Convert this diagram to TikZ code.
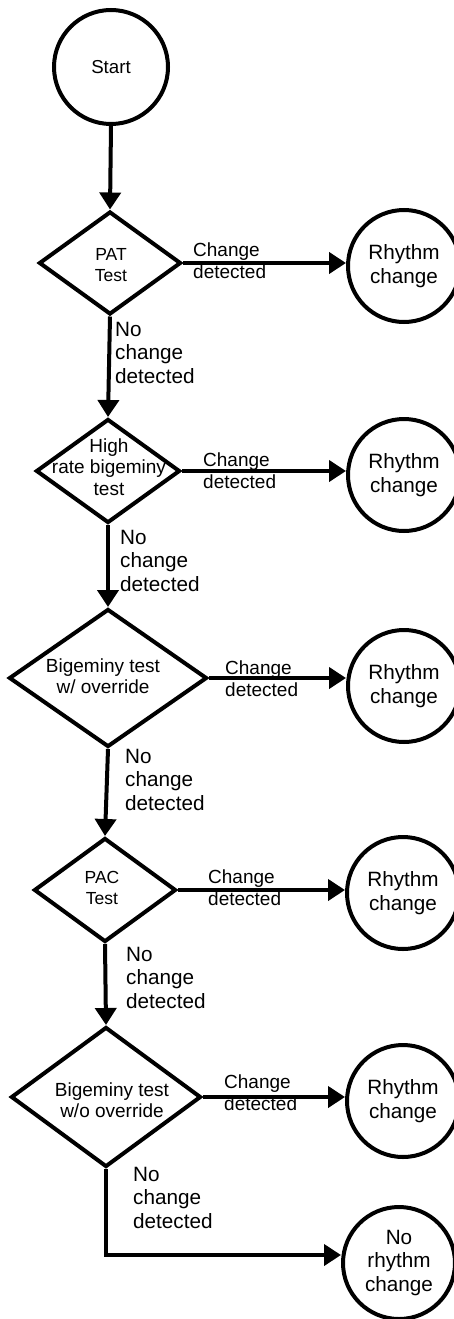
\documentclass[tikz,border=0pt]{standalone}
\usepackage{fontspec}
\setmainfont{Liberation Sans}
\usetikzlibrary{shapes.geometric,arrows.meta}
\begin{document}
\begin{tikzpicture}[x=1pt,y=-1pt,
  term/.style={draw, circle, line width=4pt, minimum size=112pt, inner sep=0pt, align=center, font=\fontsize{20.7}{23.5}\selectfont},
  dec/.style={draw, diamond, line width=4pt, inner sep=0pt},
  txt/.style={align=center, inner sep=0pt, font=\fontsize{19}{21.5}\selectfont},
  small/.style={font=\fontsize{17.5}{21.5}\selectfont},
  chg/.style={align=left, inner sep=0pt, anchor=west, font=\fontsize{19}{22}\selectfont},
  nochg/.style={align=left, inner sep=0pt, anchor=north west, font=\fontsize{20.7}{23.5}\selectfont},
  flow/.style={line width=4pt, -{Triangle[length=17pt,width=21pt]}}
]
\useasboundingbox[fill=white] (0,0) rectangle (453,1319);

% start
\node[term, minimum size=114pt, font=\fontsize{18.7}{22}\selectfont] (start) at (111,67) {Start};

% decisions
\node[dec, minimum width=142pt, minimum height=103pt] (d1) at (110,263) {};
\node[txt, small] (t1) at (111,265) {PAT\\Test};
\node[dec, minimum width=144pt, minimum height=104pt] (d2) at (108,471) {};
\node[txt] (t2) at (109,467) {High\\rate bigeminy\\test};
\node[dec, minimum width=198pt, minimum height=138pt] (d3) at (108,678) {};
\node[txt] (t3) at (103,676) {Bigeminy test\\w/ override};
\node[dec, minimum width=142pt, minimum height=104pt] (d4) at (105,890) {};
\node[txt, small] (t4) at (102,888) {PAC\\Test};
\node[dec, minimum width=190pt, minimum height=140pt] (d5) at (106,1097) {};
\node[txt] (t5) at (112,1100) {Bigeminy test\\w/o override};

% outcomes
\node[term] (c1) at (404,266) {Rhythm\\change};
\node[term] (c2) at (404,475) {Rhythm\\change};
\node[term] (c3) at (404,686) {Rhythm\\change};
\node[term] (c4) at (403,893) {Rhythm\\change};
\node[term] (c5) at (403,1101) {Rhythm\\change};
\node[term] (c6) at (399,1263) {No\\rhythm\\change};

% labels
\node[chg] (l1) at (193,261) {Change\\detected};
\node[chg] (l2) at (203,471) {Change\\detected};
\node[chg] (l3) at (225,679) {Change\\detected};
\node[chg] (l4) at (208,888) {Change\\detected};
\node[chg] (l5) at (224,1093) {Change\\detected};

\node[nochg] (n1) at (115,322) {No\\change\\detected};
\node[nochg] (n2) at (120,530) {No\\change\\detected};
\node[nochg] (n3) at (125,749) {No\\change\\detected};
\node[nochg] (n4) at (126,947) {No\\change\\detected};
\node[nochg] (n5) at (133,1167) {No\\change\\detected};

% vertical flow
\draw[flow] (start.south) -- (d1.north);
\draw[flow] (d1.south) -- (d2.north);
\draw[flow] (d2.south) -- (d3.north);
\draw[flow] (d3.south) -- (d4.north);
\draw[flow] (d4.south) -- (d5.north);

% horizontal flow
\draw[flow] (d1.east) -- (d1.east -| c1.west);
\draw[flow] (d2.east) -- (d2.east -| c2.west);
\draw[flow] (d3.east) -- (d3.east -| c3.west);
\draw[flow] (d4.east) -- (d4.east -| c4.west);
\draw[flow] (d5.east) -- (d5.east -| c5.west);

\coordinate (corner) at (106,1255);
\draw[flow] (d5.south) -- (corner) -- (corner -| c6.west);
\end{tikzpicture}
\end{document}
